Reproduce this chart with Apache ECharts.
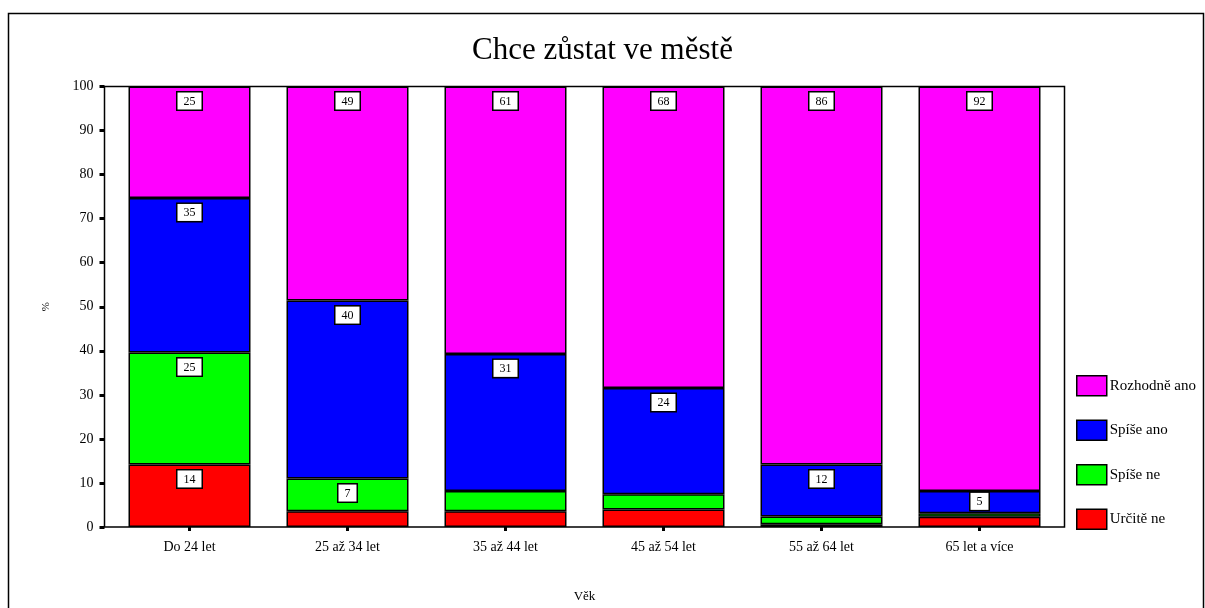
<!DOCTYPE html>
<html>
<head>
<meta charset="utf-8">
<script src="https://cdn.jsdelivr.net/npm/echarts@6/dist/echarts.min.js"></script>
<style>
  html, body { margin: 0; padding: 0; background: #fff; }
  #chart { width: 1205px; height: 608px; }
</style>
</head>
<body>
<div id="chart"></div>
<script>
// kategorie - vekove skupiny
var categories = ["Do 24 let", "25 až 34 let", "35 až 44 let", "45 až 54 let", "55 až 64 let", "65 let a více"];
// procenta (odhad z obrazku)
var urciteNe = [14.2, 3.6, 3.6, 3.95, 0.6, 2.35];
var spiseNe = [25.4, 7.4, 4.6, 3.5, 1.8, 0.75];
var spiseAno = [35.1, 40.4, 31.1, 24.1, 11.8, 5.1];
var rozhodneAno = [25.3, 48.6, 60.7, 68.45, 85.8, 91.8];

var serif = "'Liberation Serif', 'DejaVu Serif', serif";

// popisek jen pro segmenty >= 5 %
function makeData(arr) {
  return arr.map(function (v) {
    var item = { value: v };
    if (v < 5) {
      item.label = { show: false };
    } else if (v < 6) {
      item.label = { distance: 2 };
    }
    return item;
  });
}

function makeSeries(name, arr, color) {
  return {
    name: name,
    type: "bar",
    stack: "total",
    barWidth: 122,
    data: makeData(arr),
    itemStyle: { color: color, borderColor: "#000", borderWidth: 1.5 },
    label: {
      show: true,
      position: "insideTop",
      distance: 6,
      formatter: function (p) {
        return Math.round(p.value);
      },
      fontFamily: serif,
      fontSize: 12,
      color: "#000",
      backgroundColor: "#fff",
      borderColor: "#000",
      borderWidth: 1.5,
      padding: [3, 6, 2, 6],
    },
  };
}

var chart = echarts.init(document.getElementById("chart"));
chart.setOption({
  animation: false,
  backgroundColor: "#fff",
  textStyle: { fontFamily: serif },
  title: {
    text: "Chce zůstat ve městě",
    left: "center",
    top: 30,
    textStyle: { fontFamily: serif, fontSize: 31, fontWeight: "normal", color: "#000" },
  },
  // ramecky
  graphic: [
    {
      type: "rect",
      shape: { x: 8.5, y: 13.5, width: 1195, height: 620 },
      style: { fill: null, stroke: "#000", lineWidth: 1.5 },
      z: -1,
    },
    {
      type: "rect",
      shape: { x: 104.5, y: 86.5, width: 960, height: 440.5 },
      style: { fill: null, stroke: "#000", lineWidth: 1.5 },
      z: 10,
    },
  ],
  legend: {
    orient: "vertical",
    left: 1076,
    top: 375,
    padding: 0,
    itemWidth: 30,
    itemHeight: 20,
    itemGap: 23,
    icon: "rect",
    data: ["Rozhodně ano", "Spíše ano", "Spíše ne", "Určitě ne"],
    itemStyle: { borderColor: "#000", borderWidth: 1.5 },
    textStyle: { fontFamily: serif, fontSize: 15, color: "#000", padding: [0, 0, 0, -2] },
  },
  grid: { left: 110.5, right: 146.5, top: 86.5, bottom: 81 },
  xAxis: {
    type: "category",
    data: categories,
    name: "Věk",
    nameLocation: "middle",
    nameGap: 63,
    nameTextStyle: { fontFamily: serif, fontSize: 13, color: "#000" },
    axisLine: { show: false },
    axisTick: { show: true, alignWithLabel: true, length: 4, lineStyle: { color: "#000", width: 3 } },
    axisLabel: { fontFamily: serif, fontSize: 14, color: "#000", margin: 13 },
  },
  yAxis: {
    type: "value",
    min: 0,
    max: 100,
    interval: 10,
    offset: 6,
    name: "%",
    nameLocation: "middle",
    nameGap: 53,
    nameRotate: 90,
    nameTextStyle: { fontFamily: serif, fontSize: 11, color: "#000" },
    axisLine: { show: false },
    axisTick: { show: true, length: 5, lineStyle: { color: "#000", width: 3 } },
    splitLine: { show: false },
    axisLabel: { fontFamily: serif, fontSize: 14, color: "#000", margin: 11 },
  },
  series: [
    makeSeries("Určitě ne", urciteNe, "#ff0000"),
    makeSeries("Spíše ne", spiseNe, "#00ff00"),
    makeSeries("Spíše ano", spiseAno, "#0000ff"),
    makeSeries("Rozhodně ano", rozhodneAno, "#ff00ff"),
  ],
});
</script>
</body>
</html>
